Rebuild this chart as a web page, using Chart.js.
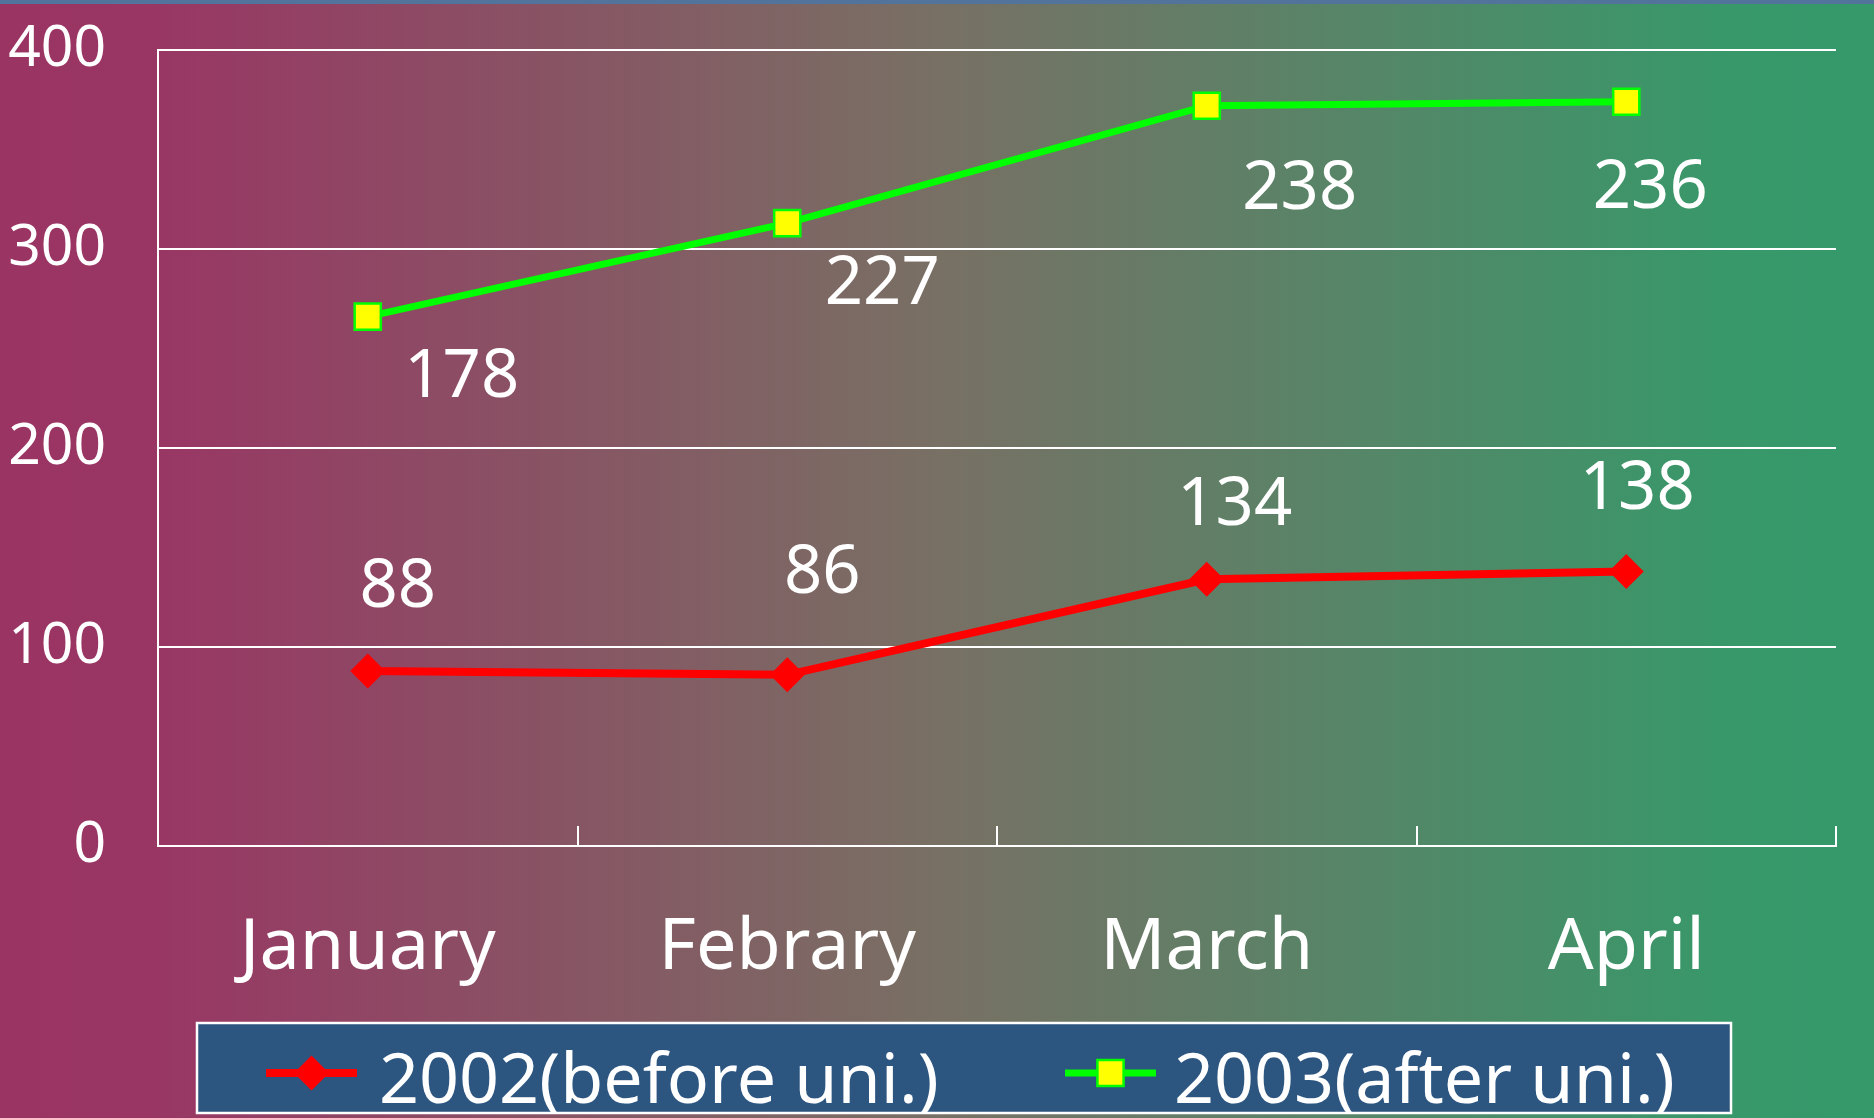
<!DOCTYPE html>
<html><head><meta charset="utf-8">
<script src="https://cdn.jsdelivr.net/npm/chart.js@4/dist/chart.umd.min.js"></script>
<style>html,body{margin:0;padding:0;overflow:hidden;background:#7a6f62}canvas{display:block}</style>
</head><body>
<canvas id="c" width="1874" height="1118"></canvas>
<script>
// ---- data ----
const categories = ['January', 'Febrary', 'March', 'April'];
const series2002 = [88, 86, 134, 138];
const series2003 = [178, 227, 238, 236];
const seriesNames = ['2002(before uni.)', '2003(after uni.)'];
const yTicks = [0, 100, 200, 300, 400];

// ---- styling ----
const FONT = 'Noto Sans';
const labelNudges = [
  [[30, -88], [35, -106], [28, -78], [11, -86]],
  [[94, 56], [95, 57], [93, 79], [24, 82]]
];

const bgPlugin = {
  id: 'bg',
  beforeDraw(chart) {
    const ctx = chart.ctx, w = chart.width, h = chart.height;
    ctx.save();
    const g = ctx.createLinearGradient(0, 0, w, 0);
    g.addColorStop(0, '#9A3463');
    g.addColorStop(0.08, '#993664');
    g.addColorStop(0.5, '#787064');
    g.addColorStop(0.92, '#38986A');
    g.addColorStop(1, '#35996A');
    ctx.fillStyle = g;
    ctx.fillRect(0, 0, w, h);
    ctx.fillStyle = '#52739C';
    ctx.fillRect(0, 0, w, 4);
    ctx.restore();
  }
};

const valueLabels = {
  id: 'valueLabels',
  afterDatasetsDraw(chart) {
    const ctx = chart.ctx;
    const size = 67;
    ctx.save();
    ctx.font = size + 'px "' + FONT + '"';
    ctx.fillStyle = '#fff';
    ctx.textAlign = 'center';
    ctx.textBaseline = 'alphabetic';
    chart.data.datasets.forEach((ds, di) => {
      const meta = chart.getDatasetMeta(di);
      meta.data.forEach((pt, i) => {
        const [dx, dy] = labelNudges[di][i];
        ctx.fillText(String(ds.data[i]), pt.x + dx, pt.y + dy + size * 0.357);
      });
    });
    ctx.restore();
  }
};

function drawMarker(ctx, ds, x, y) {
  ctx.save();
  ctx.fillStyle = ds.pointBackgroundColor;
  ctx.strokeStyle = ds.pointBorderColor;
  ctx.lineWidth = ds.pointBorderWidth;
  const r = ds.pointRadius;
  ctx.beginPath();
  if (ds.pointStyle === 'rectRot') {
    ctx.moveTo(x - r, y); ctx.lineTo(x, y - r); ctx.lineTo(x + r, y); ctx.lineTo(x, y + r);
  } else {
    const s = Math.SQRT1_2 * r;
    ctx.rect(x - s, y - s, 2 * s, 2 * s);
  }
  ctx.closePath();
  ctx.fill();
  if (ds.pointBorderWidth) ctx.stroke();
  ctx.restore();
}

const boxLegend = {
  id: 'boxLegend',
  afterDraw(chart, args, opts) {
    const ctx = chart.ctx;
    ctx.save();
    ctx.fillStyle = '#2C5580';
    ctx.fillRect(opts.left, opts.top, opts.width, opts.height);
    ctx.strokeStyle = '#fff';
    ctx.lineWidth = 2.5;
    ctx.strokeRect(opts.left, opts.top, opts.width, opts.height);
    chart.data.datasets.forEach((ds, i) => {
      const mx = opts.markerX[i];
      const my = opts.markerY;
      ctx.strokeStyle = ds.borderColor;
      ctx.lineWidth = ds.borderWidth;
      ctx.beginPath();
      ctx.moveTo(mx, my); ctx.lineTo(mx + opts.markerW, my);
      ctx.stroke();
      drawMarker(ctx, ds, mx + opts.markerW / 2, my);
      ctx.fillStyle = '#fff';
      ctx.font = opts.fontSize + 'px "' + FONT + '"';
      ctx.textAlign = 'left';
      ctx.textBaseline = 'alphabetic';
      ctx.fillText(ds.label, opts.textX[i], opts.baseline);
    });
    ctx.restore();
  }
};

new Chart(document.getElementById('c'), {
  type: 'line',
  data: {
    labels: categories,
    datasets: [
      {
        label: seriesNames[0], data: series2002,
        borderColor: '#FF0000', borderWidth: 8,
        pointStyle: 'rectRot', pointRadius: 17.5,
        pointBackgroundColor: '#FF0000', pointBorderColor: '#FF0000', pointBorderWidth: 0,
        tension: 0, fill: false
      },
      {
        label: seriesNames[1], data: series2003,
        borderColor: '#00FF00', borderWidth: 7,
        pointStyle: 'rect', pointRadius: 18.5,
        pointBackgroundColor: '#FFFF00', pointBorderColor: '#00FF00', pointBorderWidth: 2.5,
        tension: 0, fill: false
      }
    ]
  },
  options: {
    responsive: false,
    animation: false,
    events: [],
    layout: { padding: { left: 8, right: 38, top: 50, bottom: 122 } },
    plugins: {
      legend: { display: false },
      tooltip: { enabled: false },
      boxLegend: {
        left: 197, top: 1023, width: 1534, height: 90,
        markerX: [266, 1065], markerW: 91, markerY: 1073,
        textX: [379, 1174], baseline: 1103, fontSize: 70
      }
    },
    scales: {
      x: {
        offset: true,
        grid: { offset: true, drawOnChartArea: false, color: '#fff', lineWidth: 2, tickLength: -20, tickWidth: 2, tickColor: '#fff' },
        border: { color: '#fff', width: 2 },
        ticks: { color: '#fff', font: { family: FONT, size: 72 }, padding: 79, maxRotation: 0, autoSkip: false },
        afterFit(s) { s.height = 150; s.paddingLeft = 0; s.paddingRight = 0; }
      },
      y: {
        stacked: true,
        min: yTicks[0], max: yTicks[yTicks.length - 1],
        ticks: { stepSize: yTicks[1] - yTicks[0], color: '#fff', font: { family: FONT, size: 57 }, padding: 52 },
        grid: { color: '#fff', lineWidth: 2, drawTicks: false },
        border: { color: '#fff', width: 2 },
        afterFit(s) { s.width = 150; s.paddingTop = 0; s.paddingBottom = 0; }
      }
    }
  },
  plugins: [bgPlugin, valueLabels, boxLegend]
});
</script>
</body></html>
